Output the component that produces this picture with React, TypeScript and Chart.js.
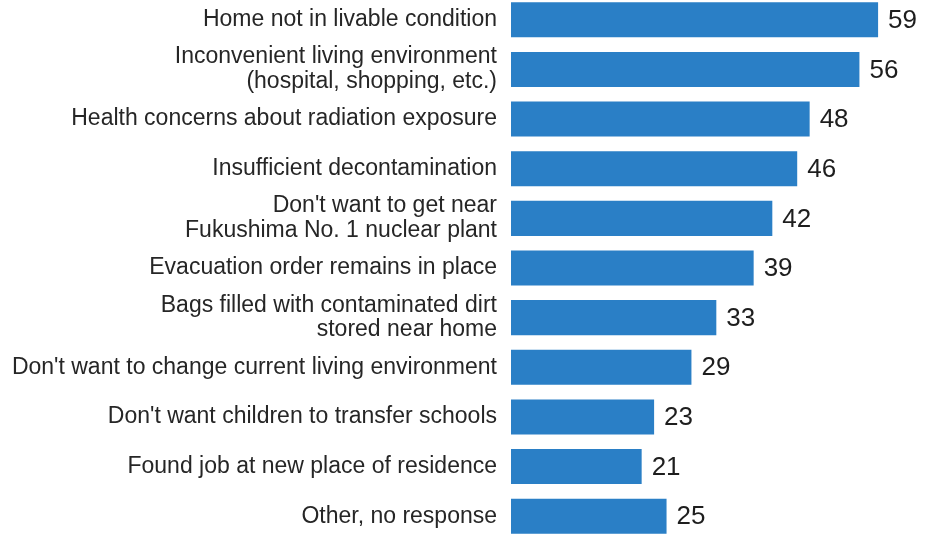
import React, { useEffect, useRef } from "react";
import { Chart, registerables } from "chart.js";

Chart.register(...registerables);

const categories: (string | string[])[] = [
  "Home not in livable condition",
  ["Inconvenient living environment", "(hospital, shopping, etc.)"],
  "Health concerns about radiation exposure",
  "Insufficient decontamination",
  ["Don't want to get near", "Fukushima No. 1 nuclear plant"],
  "Evacuation order remains in place",
  ["Bags filled with contaminated dirt", "stored near home"],
  "Don't want to change current living environment",
  "Don't want children to transfer schools",
  "Found job at new place of residence",
  "Other, no response",
];

const values: number[] = [59, 56, 48, 46, 42, 39, 33, 29, 23, 21, 25];

const FONT = "'Liberation Sans', Arial, Helvetica, sans-serif";

const valueLabels = {
  id: "valueLabels",
  afterDatasetsDraw(chart: any) {
    const ctx = chart.ctx;
    const meta = chart.getDatasetMeta(0);
    ctx.save();
    ctx.font = `26px ${FONT}`;
    ctx.fillStyle = "#1e1e1e";
    ctx.textAlign = "left";
    ctx.textBaseline = "middle";
    meta.data.forEach((bar: any, i: number) => {
      ctx.fillText(String(values[i]), bar.x + 10, bar.y + 1);
    });
    ctx.restore();
  },
};

export default function App() {
  const ref = useRef<HTMLCanvasElement | null>(null);

  useEffect(() => {
    document.body.style.margin = "0";
    if (!ref.current) return;
    const chart = new Chart(ref.current, {
      type: "bar",
      data: {
        labels: categories,
        datasets: [
          {
            data: values,
            backgroundColor: "#2a7fc6",
            borderWidth: 0,
            barPercentage: 0.706,
            categoryPercentage: 1,
          },
        ],
      },
      options: {
        indexAxis: "y",
        responsive: false,
        animation: false,
        layout: { padding: 0 },
        plugins: {
          legend: { display: false },
          tooltip: { enabled: false },
        },
        scales: {
          x: {
            display: false,
            min: 0,
            max: 66.7,
          },
          y: {
            grid: { display: false, drawTicks: false },
            border: { display: false },
            ticks: {
              autoSkip: false,
              color: "#262626",
              padding: 14,
              font: { family: FONT, size: 23, lineHeight: 1.08 },
            },
            afterFit(scale: any) {
              scale.width = 511;
              scale.paddingTop = 0;
              scale.paddingBottom = 0;
            },
          },
        },
      },
      plugins: [valueLabels],
    });
    return () => chart.destroy();
  }, []);

  return (
    <div style={{ position: "relative", width: 926, height: 535, overflow: "hidden", background: "#fff" }}>
      <canvas
        ref={ref}
        width={926}
        height={546}
        style={{ position: "absolute", left: 0, top: -5, width: 926, height: 546 }}
      />
    </div>
  );
}
